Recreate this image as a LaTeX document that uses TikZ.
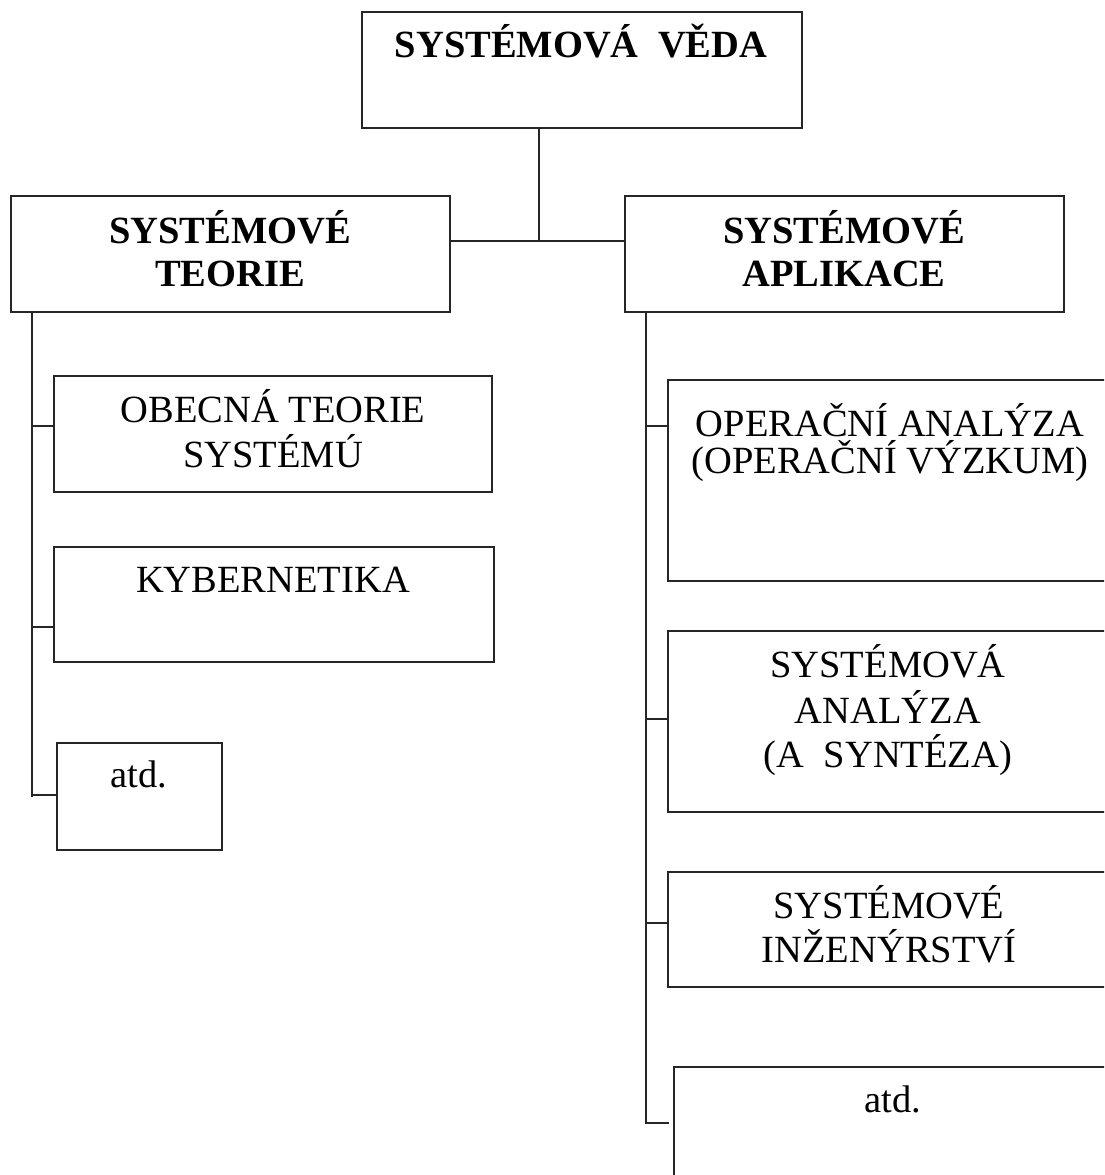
\documentclass[tikz,border=0pt]{standalone}
\usepackage{fontspec}
\setmainfont{Liberation Serif}
\begin{document}
\begin{tikzpicture}[x=1pt,y=-1pt,
  box/.style={draw=black!85,line width=1.8pt,rectangle,inner sep=0pt},
  lbl/.style={anchor=base,inner sep=0pt,font=\fontsize{38.5}{44}\selectfont},
  blbl/.style={anchor=base,inner sep=0pt,font=\fontsize{38.5}{44}\selectfont\bfseries},
  conn/.style={draw=black!85,line width=1.8pt}]
\useasboundingbox (0,0) rectangle (1104,1175);
\clip (0,0) rectangle (1104,1175);
% boxes
\node[box,minimum width=440,minimum height=116] (veda) at (582,70) {};
\node[box,minimum width=439,minimum height=116] (teorie) at (230.5,254) {};
\node[box,minimum width=439,minimum height=116] (aplikace) at (844.5,254) {};
\node[box,minimum width=438,minimum height=116] (obecna) at (273,434) {};
\node[box,minimum width=440,minimum height=115] (kyber) at (274,604.5) {};
\node[box,minimum width=165,minimum height=107] (atdL) at (139.5,796.5) {};
\node[box,minimum width=442,minimum height=201] (oper) at (889,480.5) {};
\node[box,minimum width=442,minimum height=181] (sanal) at (889,721.5) {};
\node[box,minimum width=442,minimum height=115] (sinz) at (889,929.5) {};
\node[box,minimum width=438,minimum height=123] (atdR) at (893,1128.5) {};
% texts
\node[blbl] (tveda) at (581,57) {SYSTÉMOVÁ\ \ VĚDA};
\node[blbl] (tteo1) at (230,243) {SYSTÉMOVÉ};
\node[blbl] (tteo2) at (230,286) {TEORIE};
\node[blbl] (tapl1) at (844,243) {SYSTÉMOVÉ};
\node[blbl] (tapl2) at (844,286) {APLIKACE};
\node[lbl] (tob1) at (273,422) {OBECNÁ TEORIE};
\node[lbl] (tob2) at (273,467) {SYSTÉMÚ};
\node[lbl] (tkyb) at (273,592) {KYBERNETIKA};
\node[lbl] (tatdL) at (139,787) {atd.};
\node[lbl] (top1) at (890,436) {OPERAČNÍ ANALÝZA};
\node[lbl] (top2) at (890,473) {(OPERAČNÍ VÝZKUM)};
\node[lbl] (tsa1) at (888,677) {SYSTÉMOVÁ};
\node[lbl] (tsa2) at (888,723) {ANALÝZA};
\node[lbl] (tsa3) at (888,767) {(A\ \ SYNTÉZA)};
\node[lbl] (tsi1) at (889,918) {SYSTÉMOVÉ};
\node[lbl] (tsi2) at (889,962) {INŽENÝRSTVÍ};
\node[lbl] (tatdR) at (893,1112) {atd.};
% connectors
\coordinate (j) at (539,241);
\draw[conn] (veda.south -| j) -- (j);
\draw[conn] (teorie.east |- j) -- (aplikace.west |- j);
\coordinate (lt) at (32,797);
\draw[conn] (teorie.south -| lt) -- (lt);
\coordinate (tl1) at (32,426);
\coordinate (tl2) at (32,627);
\coordinate (tl3) at (32,795);
\draw[conn] (tl1) -- (tl1 -| obecna.west);
\draw[conn] (tl2) -- (tl2 -| kyber.west);
\draw[conn] (tl3) -- (tl3 -| atdL.west);
\coordinate (rt) at (646,1124);
\draw[conn] (aplikace.south -| rt) -- (rt);
\coordinate (tr1) at (646,426);
\coordinate (tr2) at (646,719);
\coordinate (tr3) at (646,923);
\coordinate (tr4) at (646,1123);
\coordinate (tr4e) at (669,1123);
\draw[conn] (tr1) -- (tr1 -| oper.west);
\draw[conn] (tr2) -- (tr2 -| sanal.west);
\draw[conn] (tr3) -- (tr3 -| sinz.west);
\draw[conn] (tr4) -- (tr4e);
\end{tikzpicture}
\end{document}
